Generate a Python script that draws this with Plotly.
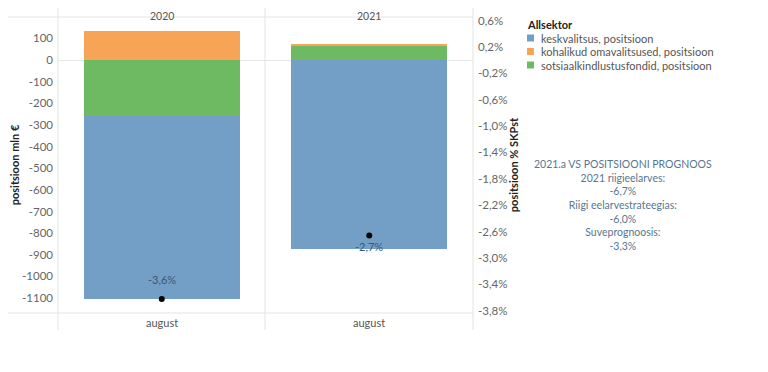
import plotly.graph_objects as go

# ---- data ----
years = ["2020", "2021"]
month = "august"
keskvalitsus = [-847, -873]
kohalikud = [135, 9]
sotsiaal = [-257, 66]
pct_skp = [-3.62, -2.66]
legend_title = "Allsektor"
series_names = ["keskvalitsus, positsioon",
                "kohalikud omavalitsused, positsioon",
                "sotsiaalkindlustusfondid, positsioon"]
colors = ["#739FC7", "#F7A457", "#6DBA63"]
left_ticks = list(range(100, -1101, -100))
right_ticks = [0.6, 0.2, -0.2, -0.6, -1.0, -1.4, -1.8, -2.2, -2.6, -3.0, -3.4, -3.8]
note_lines = ["2021.a VS POSITSIOONI PROGNOOS", "2021 riigieelarves:", "-6,7%",
              "Riigi eelarvestrateegias:", "-6,0%", "Suveprognoosis:", "-3,3%"]

FONT = "Lato, 'Open Sans', sans-serif"
xpos = list(range(len(years)))
series_vals = [keskvalitsus, kohalikud, sotsiaal]

fig = go.Figure()
# stacking order: sotsiaal nearest zero, then keskvalitsus / kohalikud
for idx in [2, 0, 1]:
    fig.add_trace(go.Bar(
        x=xpos, y=series_vals[idx], name=series_names[idx],
        marker_color=colors[idx], marker_line_width=0, width=0.75,
        showlegend=False, hoverinfo="skip"))

fig.add_trace(go.Scatter(
    x=xpos, y=pct_skp, yaxis="y2", mode="markers",
    marker=dict(color="black", size=6),
    showlegend=False, hoverinfo="skip"))

# layout geometry (page body has an 8px margin, so the figure is offset)
OFF = 8
W, H = 768 - OFF, 372 - OFF
PL, PT, PR, PB = 58, 17, 473, 313          # plot box in screen pixels
pw, ph = PR - PL, PB - PT
ml, mt = PL - OFF, PT - OFF
mr, mb = W - ml - pw, H - mt - ph

y1_top = 199.0
px_per_unit1 = 21.64 / 100
px_per_pct = 65.97
y1_bot = y1_top - ph / px_per_unit1
zero_px = y1_top * px_per_unit1
y2_top = zero_px / px_per_pct
y2_bot = y2_top - ph / px_per_pct

def px_x(p):
    return (p - PL) / pw
def px_y(p):
    return (PB - p) / ph

fig.update_layout(
    width=W, height=H,
    margin=dict(l=ml, r=mr, t=mt, b=mb, autoexpand=False),
    paper_bgcolor="white", plot_bgcolor="white",
    barmode="relative", bargap=0, showlegend=False,
    font=dict(family=FONT, size=11, color="#666666"),
    xaxis=dict(range=[-0.5, 1.5], showticklabels=False, showgrid=False,
               zeroline=False, fixedrange=True, automargin=False),
    yaxis=dict(range=[y1_bot, y1_top], tickvals=left_ticks,
               ticktext=[str(v) for v in left_ticks], automargin=False,
               showgrid=False, zeroline=True, zerolinecolor="#e6e6e6",
               zerolinewidth=1, ticks="", ticklabelstandoff=4,
               tickfont=dict(size=11.5),
               title=dict(text="<b>positsioon mln €</b>",
                          font=dict(size=11, color="#222222"), standoff=3)),
    yaxis2=dict(range=[y2_bot, y2_top], overlaying="y", side="right",
                tickvals=right_ticks, automargin=False,
                ticktext=[f"{v:.1f}%".replace(".", ",") for v in right_ticks],
                showgrid=False, zeroline=False, ticks="", ticklabelstandoff=4,
                tickfont=dict(size=11.5),
                title=dict(text="<b>positsioon % SKPst</b>",
                           font=dict(size=11, color="#222222"), standoff=3)),
)

line_col = "#e3e3e3"
shapes = []
for xp in [58, 265, 473]:
    shapes.append(dict(type="line", xref="paper", yref="paper",
                       x0=px_x(xp), x1=px_x(xp), y0=px_y(OFF), y1=px_y(330),
                       line=dict(color=line_col, width=1)))
for yp in [17, 313]:
    shapes.append(dict(type="line", xref="paper", yref="paper",
                       x0=px_x(OFF), x1=px_x(473), y0=px_y(yp), y1=px_y(yp),
                       line=dict(color=line_col, width=1)))

annos = []
for i, yr in enumerate(years):
    annos.append(dict(x=i, xref="x", y=px_y(16), yref="paper", yanchor="middle",
                      text=yr, showarrow=False, font=dict(size=10.5, color="#555555")))
    annos.append(dict(x=i, xref="x", y=px_y(322), yref="paper", yanchor="middle",
                      text=month, showarrow=False, font=dict(size=11, color="#555555")))

# value labels for the % points
shifts = [19, -11]
for i, v in enumerate(pct_skp):
    annos.append(dict(x=xpos[i], xref="x", y=v, yref="y2", yshift=shifts[i],
                      yanchor="middle", text=f"{v:.1f}%".replace(".", ","),
                      showarrow=False, font=dict(size=11, color="#3B5873")))

# manual legend
lx = 527
annos.append(dict(x=px_x(lx - 2), xref="paper", y=px_y(24), yref="paper",
                  xanchor="left", yanchor="middle", text=f"<b>{legend_title}</b>",
                  showarrow=False, font=dict(size=11, color="#222222")))
for k, (nm, col) in enumerate(zip(series_names, colors)):
    yc = 38 + k * 13.5
    shapes.append(dict(type="rect", xref="paper", yref="paper",
                       x0=px_x(lx), x1=px_x(lx + 7), y0=px_y(yc - 3.5), y1=px_y(yc + 3.5),
                       fillcolor=col, line=dict(width=0)))
    annos.append(dict(x=px_x(lx + 12), xref="paper", y=px_y(yc), yref="paper",
                      xanchor="left", yanchor="middle", text=nm, showarrow=False,
                      font=dict(size=11, color="#555555")))

annos.append(dict(x=px_x(623), xref="paper", y=px_y(156), yref="paper",
                  yanchor="top", xanchor="center", align="center",
                  text="<br>".join(note_lines), showarrow=False,
                  font=dict(size=10.5, color="#56788F", family=FONT)))
fig.update_layout(shapes=shapes, annotations=annos)

fig.write_html("out.html")
